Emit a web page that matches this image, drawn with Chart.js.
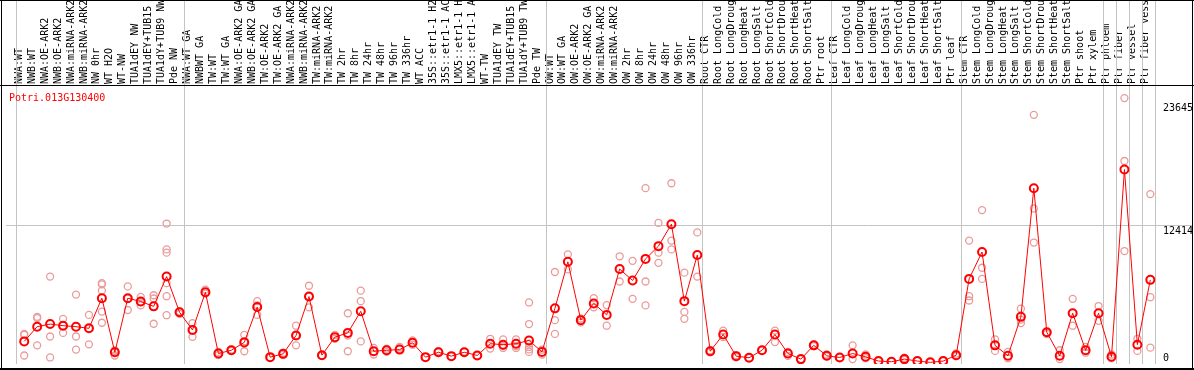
<!DOCTYPE html>
<html><head><meta charset="utf-8">
<script src="https://cdn.jsdelivr.net/npm/chart.js@4/dist/chart.umd.min.js"></script>
<style>html,body{margin:0;padding:0;background:#fff;}#wrap{width:1194px;height:370px;}</style>
</head><body><div id="wrap"><canvas id="c" width="1194" height="370"></canvas></div>
<script>
const geneId = 'Potri.013G130400';
const categories = [
 'NWA:WT','NWB:WT','NWA:OE-ARK2','NWB:OE-ARK2','NWA:miRNA-ARK2','NWB:miRNA-ARK2','NW 0hr','WT H2O','WT-NW','TUA1dEY NW','TUA1dEY+TUB15 NW','TUA1dY+TUB9 NW','Pde NW',
 'NWA:WT GA','NWBWT GA','TW:WT','TW:WT GA','NWA:OE-ARK2 GA','NWB:OE-ARK2 GA','TW:OE-ARK2','TW:OE-ARK2 GA','NWA:miRNA-ARK2 GA','NWB:miRNA-ARK2 GA','TW:miRNA-ARK2','TW:miRNA-ARK2 GA',
 'TW 2hr','TW 8hr','TW 24hr','TW 48hr','TW 96hr','TW 336hr','WT ACC','35S::etr1-1 H2O','35S::etr1-1 ACC','LMX5::etr1-1 H2O','LMX5::etr1-1 ACC','WT-TW','TUA1dEY TW','TUA1dEY+TUB15 TW','TUA1dY+TUB9 TW','Pde TW',
 'OW:WT','OW:WT GA','OW:OE-ARK2','OW:OE-ARK2 GA','OW:miRNA-ARK2','OW:miRNA-ARK2 GA','OW 2hr','OW 8hr','OW 24hr','OW 48hr','OW 96hr','OW 336hr',
 'Root CTR','Root LongCold','Root LongDrought','Root LongHeat','Root LongSalt','Root ShortCold','Root ShortDrought','Root ShortHeat','Root ShortSalt','Ptr root',
 'Leaf CTR','Leaf LongCold','Leaf LongDrought','Leaf LongHeat','Leaf LongSalt','Leaf ShortCold','Leaf ShortDrought','Leaf ShortHeat','Leaf ShortSalt','Ptr leaf',
 'Stem CTR','Stem LongCold','Stem LongDrought','Stem LongHeat','Stem LongSalt','Stem ShortCold','Stem ShortDrought','Stem ShortHeat','Stem ShortSalt','Ptr shoot','Ptr xylem',
 'Ptr phloem','Ptr fiber','Ptr vessel','Ptr fiber vessel'
];
const groupStarts = [0,13,41,53,63,73,84,85,86,87,88];
const yTicks = [23645,12414,0];
const means = [
 1925,3262,3500,3351,3262,3113,5846,944,5846,5549,5104,7808,4569,
 2965,6381,826,1122,1836,5044,498,796,2460,5995,677,2311,2697,4658,1033,1122,1182,1806,498,944,588,944,647,1717,1627,1717,2014,974,
 4925,9145,3856,5372,4331,8490,7451,9411,10570,12561,5579,9768,
 1033,2549,588,440,1122,2549,826,320,1568,617,
 469,826,529,142,83,320,142,24,142,677,
 7599,10036,1568,617,4153,15829,2757,617,4480,1122,4480,
 529,17523,1627,7510
];
const replicates = [
 [2519,647,2600],[4153,4035,1568],[7808,2371,468],[3975,2697,3351],[6173,2371,1182],[4331,1657,3113],[7213,6530,4629,3618,7100],[1063,647,1100],[6916,4777,5800],[5966,5193,5500],[6114,5817,3529],[12620,10273,9976,7213,6025,4301],[4658,4420],
 [3589,2341,2965],[6619,6262],[974,677],[1182,1060],[2519,1033,1950],[5579,4331,5200],[498,450],[885,700],[3351,1568,2460],[6975,5015,6000],[677,620],[2519,2162],
 [4480,2460,1033],[6530,5579,1925],[1331,736],[1271,974],[1420,1271],[2014,1627],[498],[1033,944],[588],[944,1000],[647],[2162,1271],[2103,1331,1500],[2103,1331,1500],[5460,3500,1717,1420,1200,974],[1182,736],
 [8224,3856,2608],[9828,8461],[4005,3648],[5846,5015],[5223,3351],[9649,7362],[9233,5787],[15829,7362,5193],[12680,9976,9055],[16275,11075,10273],[8164,4599,3975],[11818,7808],
 [1122,944],[2906,2311],[677,500],[440],[1122],[2906,1865],[974,617],[320],[1627,1500],[736,560],
 [469],[1568,320],[736,400],[142],[83],[440,260],[142],[24],[142],[826,600],
 [11075,6025,5639],[13839,8610,7599],[2103,1063],[974,400],[4896,3589,3900],[22484,13987,10897],[2757,2600],[1122,320],[5787,3351],[1420,900],[5134,3797],
 [736,400],[24000,18295,10124],[2162,1063],[15294,5936,1360]
];

const meanData = means.map((v,i)=>({x:i,y:v}));
const repData = replicates.flatMap((arr,i)=>arr.map(v=>({x:i,y:v})));
const MONO = '"DejaVu Sans Mono", "Liberation Mono", monospace';

const decor = {
  id:'decor',
  beforeDatasetsDraw(chart){
    const {ctx, scales:{x}, chartArea} = chart;
    ctx.save();
    ctx.strokeStyle = '#c4c4c4'; ctx.lineWidth = 1;
    groupStarts.forEach(s=>{
      const px = Math.floor(x.getPixelForValue(s - 0.62)) + 0.5;
      ctx.beginPath(); ctx.moveTo(px,0); ctx.lineTo(px,chartArea.bottom); ctx.stroke();
    });
    ctx.restore();
  },
  afterDraw(chart){
    const {ctx, scales:{y}, chartArea} = chart;
    ctx.save();
    ctx.fillStyle = '#000';
    ctx.fillRect(0,0,1194,1);
    ctx.fillRect(1,0,1,370);
    ctx.fillRect(1192,0,1,370);
    ctx.fillRect(0,85,1194,1);
    ctx.fillRect(0,368,1194,2);
    ctx.font = '10px ' + MONO;
    ctx.textAlign = 'left';
    ctx.textBaseline = 'alphabetic';
    yTicks.forEach(v=>{
      const py = y.getPixelForValue(v);
      const base = Math.min(py + 8.5, chartArea.bottom - 3.5);
      ctx.fillText(String(v), 1163, base);
    });
    ctx.fillStyle = '#ff0000';
    ctx.fillText(geneId, 9, 101);
    ctx.restore();
  }
};

new Chart(document.getElementById('c'), {
  type:'scatter',
  data:{datasets:[
    {data:repData, showLine:false, pointRadius:3.5, pointBorderWidth:1.3, pointBorderColor:'#eb9a9a', pointBackgroundColor:'rgba(0,0,0,0)', order:2},
    {data:meanData, showLine:true, borderColor:'#ff0000', borderWidth:1, pointRadius:4, pointBorderWidth:2, pointBorderColor:'#ff0000', pointBackgroundColor:'rgba(0,0,0,0)', order:1}
  ]},
  options:{
    responsive:false, animation:false, devicePixelRatio:1,
    layout:{padding:{left:1,top:0,right:0,bottom:1}},
    plugins:{legend:{display:false}, tooltip:{enabled:false}},
    scales:{
      x:{type:'linear', position:'top', min:-1.408, max:87.438,
        afterBuildTicks:s=>{ s.ticks = categories.map((_,i)=>({value:i})); },
        afterFit:s=>{ s.height = 86; },
        grid:{display:false, drawTicks:false}, border:{display:false},
        ticks:{autoSkip:false, minRotation:90, maxRotation:90, padding:2, labelOffset:7, color:'#000',
          font:{family:MONO, size:10}, callback:(v)=>categories[v] ?? ''}
      },
      y:{type:'linear', position:'right', min:-125, max:25100,
        afterBuildTicks:s=>{ s.ticks = yTicks.map(v=>({value:v})); },
        afterFit:s=>{ s.width = 38; },
        grid:{color:c=>(c.tick && c.tick.value===12414) ? '#c4c4c4' : 'rgba(0,0,0,0)', tickLength:37, drawTicks:true, lineWidth:1},
        border:{display:false},
        ticks:{display:false}
      }
    }
  },
  plugins:[decor]
});
</script></body></html>
